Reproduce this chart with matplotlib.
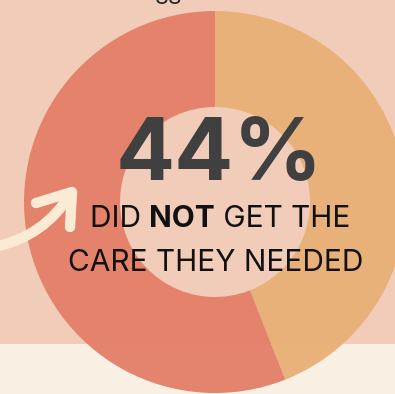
import matplotlib.pyplot as plt
from matplotlib.patches import Rectangle, FancyArrowPatch

# Data
labels = ["Did not get care", "Got care"]
shares = [44, 56]
headline = "44%"
line_one = ["DID ", "NOT", " GET THE"]
line_two = "CARE THEY NEEDED"

BG = "#f1cdb9"
CREAM = "#f8f0e3"
ORANGE = "#e8b077"
SALMON = "#e4806a"
ARROW = "#fbebd5"

fig = plt.figure(figsize=(3.95, 3.94), dpi=100)
fig.patch.set_facecolor(BG)
ax = fig.add_axes([0, 0, 1, 1])

# Bottom cream strip
ax.add_patch(Rectangle((0, 344), 395, 60, facecolor=CREAM, edgecolor="none", zorder=0))

# Donut (y axis is flipped, so -90 is the top and counterclock runs clockwise on screen)
ax.pie(
    shares,
    colors=[ORANGE, SALMON],
    startangle=-90,
    counterclock=True,
    center=(215, 202),
    radius=191,
    wedgeprops=dict(width=96, edgecolor="none", alpha=0.97),
    frame=True,
)
ax.set_xlim(0, 395)
ax.set_ylim(394, 0)
ax.set_aspect("equal")
ax.axis("off")

# Partly hidden number at the top
ax.text(168, 4, "88", ha="center", va="baseline", fontsize=16, color="#222222", family="Inter")

# Headline
ax.text(219, 180, headline, ha="center", va="baseline", fontsize=63,
        fontweight="bold", color="#404040", family="Inter")

# First line with bold word
fig.canvas.draw()
renderer = fig.canvas.get_renderer()
parts = []
for i, chunk in enumerate(line_one):
    t = ax.text(0, 227, chunk, ha="left", va="baseline", fontsize=21.5,
                fontweight="bold" if i == 1 else "normal", color="#111111", family="Inter")
    parts.append(t)
widths = [p.get_window_extent(renderer).width for p in parts]
x = 220 - sum(widths) / 2
for p, w in zip(parts, widths):
    p.set_x(x)
    x += w

ax.text(216, 271, line_two, ha="center", va="baseline", fontsize=21.5,
        color="#111111", family="Inter")

# Arrow: curved shaft plus open chevron head
shaft = FancyArrowPatch(
    (-6, 247), (71, 193),
    connectionstyle="arc3,rad=0.22",
    arrowstyle="-",
    color=ARROW, linewidth=7.5, capstyle="round", zorder=5,
    shrinkA=0, shrinkB=0,
)
ax.add_patch(shaft)
ax.plot([36, 72, 70], [203, 192, 227], color=ARROW, linewidth=7.5,
        solid_capstyle="round", solid_joinstyle="round", zorder=5)

plt.savefig("out.png", dpi=100, facecolor=BG)
